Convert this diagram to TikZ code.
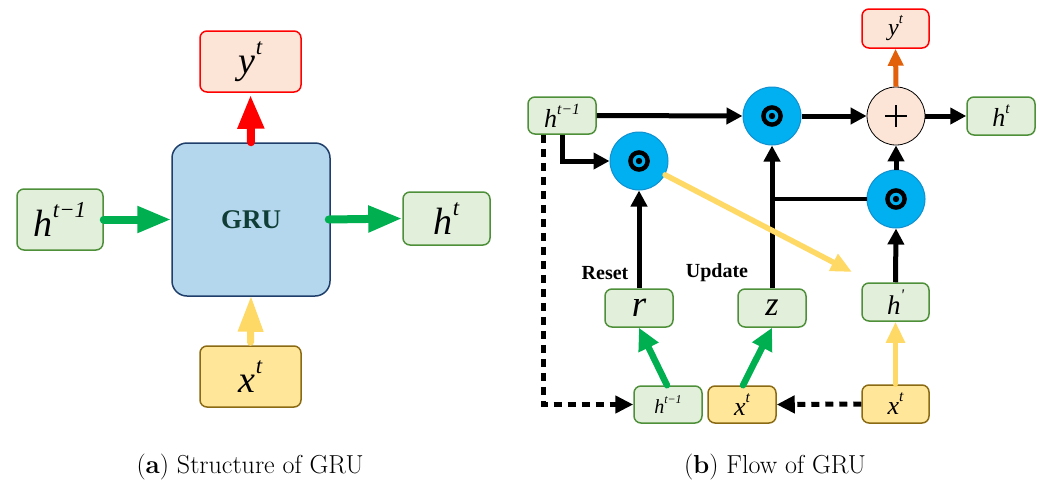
\documentclass[tikz,border=0pt]{standalone}
\usepackage{fontspec}
\usetikzlibrary{arrows.meta,calc}
\newfontfamily\tms{Liberation Serif}
\definecolor{gfill}{HTML}{E2EFDA}
\definecolor{gdraw}{HTML}{4E8F3A}
\definecolor{rfill}{HTML}{FCE4D6}
\definecolor{yfill}{HTML}{FFE699}
\definecolor{ydraw}{HTML}{8B6A14}
\definecolor{bfill}{HTML}{B4D7EE}
\definecolor{bdraw}{HTML}{1F3F6A}
\definecolor{grutxt}{HTML}{103E36}
\definecolor{cfill}{HTML}{00B0F0}
\definecolor{cdraw}{HTML}{1090D0}
\definecolor{garrow}{HTML}{00B050}
\definecolor{yarrow}{HTML}{FFD966}
\definecolor{oarrow}{HTML}{E2600A}
\newcommand\mv[2]{{\tms\itshape #1\raisebox{0.5em}{\scalebox{0.6}{#2}}}}
\newcommand\fs[1]{\fontsize{#1}{#1}\selectfont}
\tikzset{
  box/.style={rounded corners=7pt, line width=1.5pt, inner sep=0pt, align=center},
  gbox/.style={box, fill=gfill, draw=gdraw},
  rbox/.style={box, fill=rfill, draw=red},
  ybox/.style={box, fill=yfill, draw=ydraw},
  opc/.style={circle, minimum size=58pt, inner sep=0pt, fill=cfill, draw=cdraw, line width=1pt,
    path picture={\draw[draw=black, line width=4.4pt] (path picture bounding box.center) circle (8.6pt);
                  \fill[black] (path picture bounding box.center) circle (3.2pt);}},
  plusc/.style={circle, minimum size=58pt, inner sep=0pt, fill=rfill, draw=black, line width=0.8pt,
    path picture={\draw[draw=black, line width=1.2pt] ($(path picture bounding box.center)+(-11,0)$) -- ++(22,0)
                  ($(path picture bounding box.center)+(0,-11)$) -- ++(0,22);}},
  bigarr/.style={line width=8pt, line cap=round, -{Triangle[length=34pt,width=25pt]}},
  blk/.style={line width=5pt, -{Triangle[length=16pt,width=16pt]}},
  garr/.style={line width=6.5pt, line cap=round, draw=garrow, -{Triangle[length=22pt,width=21pt]}},
  yarr/.style={line width=5.5pt, line cap=round, draw=yarrow, -{Triangle[length=21pt,width=18pt]}},
  dsh/.style={line width=5pt, dash pattern=on 8pt off 6pt, -{Triangle[length=18pt,width=17pt]}},
  lbl/.style={font=\tms\bfseries\fs{20}},
  captxt/.style={font=\fs{26}}
}
\begin{document}
\begin{tikzpicture}[x=1pt,y=-1pt]
\useasboundingbox (0,0) rectangle (1041,482);
% ---------- (a) ----------
\node[rbox, minimum width=101pt, minimum height=61pt] (yt) at (250.5,61.5) {\fs{38}\mv{y}{t}};
\node[box, rounded corners=15pt, fill=bfill, draw=bdraw, minimum width=158pt, minimum height=153pt,
      font=\tms\bfseries\fs{27}, text=grutxt] (gru) at (251,219.5) {GRU};
\node[gbox, minimum width=86pt, minimum height=61pt] (hprev) at (60,219.5) {\fs{38}\mv{h}{t−1}};
\node[gbox, minimum width=87pt, minimum height=53pt] (hnext) at (446.5,218.5) {\fs{38}\mv{h}{t}};
\node[ybox, minimum width=101pt, minimum height=61pt] (xt) at (250.5,376.5) {\fs{38}\mv{x}{t}};
\draw[bigarr, garrow] (hprev.east) -- (gru.west);
\draw[bigarr, garrow] ($(gru.east)+(-2,0)$) -- (hnext.west);
\draw[bigarr, red] (gru.north) -- ($(yt.south)+(0,2)$);
\draw[line width=7pt, line cap=round, yarrow, -{Triangle[length=36pt,width=24pt]}] ($(xt.north)+(0,-3)$) -- ($(gru.south)+(0,-1)$);
\node[captxt] (capa) at (250,467) {(\textbf{a}) Structure of GRU};
% ---------- (b) ----------
\node[gbox, minimum width=68pt, minimum height=37pt] (hp1) at (562,115.5) {\fs{26}\mv{h}{t−1}};
\node[opc] (m1) at (772,116) {};
\node[plusc] (pl) at (896,116) {};
\node[gbox, minimum width=68pt, minimum height=38pt] (ht2) at (1001,116) {\fs{26}\mv{h}{t}};
\node[rbox, minimum width=67pt, minimum height=39pt] (yt2) at (895.5,28.5) {\fs{24}\mv{y}{t}};
\node[opc] (rc) at (639,161) {};
\node[opc] (lc) at (896,199) {};
\node[gbox, minimum width=68pt, minimum height=38pt] (rb) at (639,308) {\fs{37}\tms\itshape r};
\node[gbox, minimum width=68pt, minimum height=38pt] (zb) at (772,308) {\fs{34}\tms\itshape z};
\node[gbox, minimum width=67pt, minimum height=38pt] (hq) at (895.5,302) {\fs{27}\mv{h}{'}};
\node[gbox, minimum width=68pt, minimum height=37pt] (hp2) at (668,404.5) {\fs{20}\mv{h}{t−1}};
\node[ybox, minimum width=68pt, minimum height=37pt] (xt2) at (742,404.5) {\fs{26}\mv{x}{t}};
\node[ybox, minimum width=67pt, minimum height=38pt] (xt3) at (895.5,404) {\fs{26}\mv{x}{t}};
\node[lbl] (reset) at (605,273) {Reset};
\node[lbl] (update) at (717,273) {Update};
% connectors
\draw[blk] (hp1.east) -- (m1.west);
\draw[blk] (m1.east) -- (pl.west);
\draw[blk] (pl.east) -- (ht2.west);
\draw[blk] (hp1.south) |- (rc.west);
\draw[blk] (rb.north) -- (rc.south);
\draw[blk] (zb.north) -- (m1.south);
\draw[blk] (hq.north) -- (lc.south);
\draw[blk] (lc.north) -- (pl.south);
\coordinate (zj) at (zb.north |- lc.west);
\draw[line width=4pt] (lc.west) -- ($(zj)+(-2.5,0)$);
\draw[line width=5pt, oarrow, -{Triangle[length=17pt,width=15pt]}] (pl.north) -- (yt2.south);
\coordinate (yend) at (852,272);
\draw[yarr] (rc.-28) -- (yend);
\draw[garr] ($(hp2.north)+(-1,0)$) -- (rb.south);
\draw[garr] ($(xt2.north)+(1,0)$) -- (zb.south);
\draw[yarr] (xt3.north) -- (hq.south);
\coordinate (dstart) at ($(hp1.south west)+(16,0)$);
\draw[dsh] (dstart) |- (hp2.west);
\draw[dsh] (xt3.west) -- (xt2.east);
\node[captxt] (capb) at (775,467) {(\textbf{b}) Flow of GRU};
\end{tikzpicture}
\end{document}
